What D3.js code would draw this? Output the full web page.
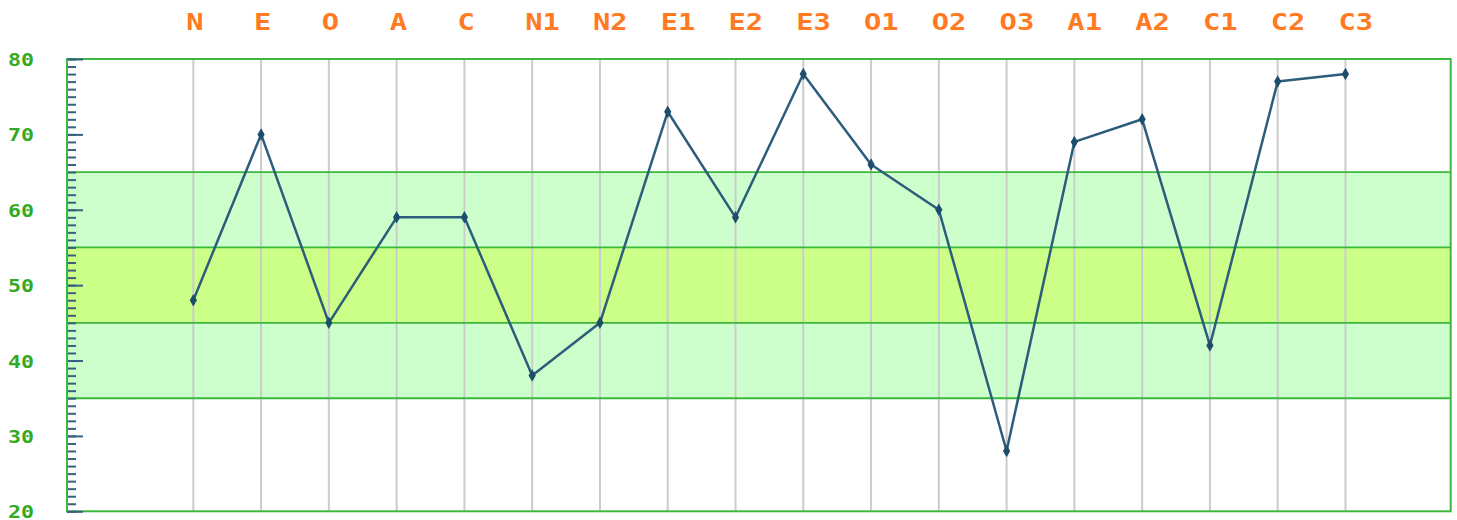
<!DOCTYPE html>
<html>
<head>
<meta charset="utf-8">
<script src="https://cdn.jsdelivr.net/npm/d3@7"></script>
<style>
  html, body { margin: 0; padding: 0; background: #ffffff; }
  svg { display: block; }
</style>
</head>
<body>
<svg id="chart" width="1457" height="520"></svg>
<script>
// ---- data ----
const categories = ["N", "E", "O", "A", "C", "N1", "N2", "E1", "E2", "E3", "O1", "O2", "O3", "A1", "A2", "C1", "C2", "C3"];
const scores = [48, 70, 45, 59, 59, 38, 45, 73, 59, 78, 66, 60, 28, 69, 72, 42, 77, 78];
const yTickLabels = [20, 30, 40, 50, 60, 70, 80];
const outerBand = [35, 65];
const innerBand = [45, 55];
const yDomain = [20, 80];

// ---- layout ----
const svg = d3.select("#chart");
const plot = { left: 67, top: 59, right: 1450.7, bottom: 511.3 };

const x = d3.scaleLinear()
  .domain([-1.864, 18.553])
  .range([plot.left, plot.right]);
const y = d3.scaleLinear()
  .domain(yDomain)
  .range([plot.bottom, plot.top]);

const green = "#3cb83c";
const labelGreen = "#33aa22";
const orange = "#ff7a22";
const lineColor = "#2c5d7a";
const tickColor = "#36617f";

// bands
svg.append("rect")
  .attr("x", plot.left).attr("width", plot.right - plot.left)
  .attr("y", y(outerBand[1])).attr("height", y(outerBand[0]) - y(outerBand[1]))
  .attr("fill", "#ccffcc");
svg.append("rect")
  .attr("x", plot.left).attr("width", plot.right - plot.left)
  .attr("y", y(innerBand[1])).attr("height", y(innerBand[0]) - y(innerBand[1]))
  .attr("fill", "#ccff88");

// vertical grid lines
svg.append("g")
  .selectAll("line")
  .data(categories)
  .join("line")
  .attr("x1", (d, i) => x(i)).attr("x2", (d, i) => x(i))
  .attr("y1", plot.top).attr("y2", plot.bottom)
  .attr("stroke", "#cccccc").attr("stroke-width", 2);

// band boundary lines
svg.append("g")
  .selectAll("line")
  .data([outerBand[0], innerBand[0], innerBand[1], outerBand[1]])
  .join("line")
  .attr("x1", plot.left).attr("x2", plot.right)
  .attr("y1", d => y(d)).attr("y2", d => y(d))
  .attr("stroke", green).attr("stroke-width", 1.8);

// plot border
svg.append("rect")
  .attr("x", plot.left).attr("y", plot.top)
  .attr("width", plot.right - plot.left).attr("height", plot.bottom - plot.top)
  .attr("fill", "none").attr("stroke", green).attr("stroke-width", 2);

// minor ticks (inside)
const minorAxis = svg.append("g")
  .attr("transform", `translate(${plot.left},0)`)
  .call(d3.axisRight(y).tickValues(d3.range(yDomain[0], yDomain[1] + 1, 1)).tickSize(9).tickFormat(""));
minorAxis.select(".domain").remove();
minorAxis.selectAll(".tick line").attr("stroke", tickColor).attr("stroke-width", 2);

// major ticks (inside)
const majorAxis = svg.append("g")
  .attr("transform", `translate(${plot.left},0)`)
  .call(d3.axisRight(y).tickValues(yTickLabels).tickSize(16).tickFormat(""));
majorAxis.select(".domain").remove();
majorAxis.selectAll(".tick line").attr("stroke", tickColor).attr("stroke-width", 2);

// left axis labels
const labelAxis = svg.append("g")
  .attr("transform", `translate(${plot.left},0)`)
  .call(d3.axisLeft(y).tickValues(yTickLabels).tickSize(0).tickPadding(33));
labelAxis.select(".domain").remove();
labelAxis.selectAll(".tick text")
  .attr("x", null)
  .attr("dy", "0.36em")
  .attr("transform", "translate(-33,0) scale(1.2,1)")
  .attr("fill", labelGreen)
  .style("font-family", "'DejaVu Sans Mono', monospace")
  .style("font-weight", "bold")
  .style("font-size", "18px");

// plot border left edge drawn again on top of ticks
svg.append("line")
  .attr("x1", plot.left).attr("x2", plot.left)
  .attr("y1", plot.top).attr("y2", plot.bottom)
  .attr("stroke", green).attr("stroke-width", 2);

// top category labels
svg.append("g")
  .selectAll("text")
  .data(categories)
  .join("text")
  .attr("transform", (d, i) => `translate(${x(i) - 7},30) scale(1.25,1)`)
  .attr("fill", orange)
  .style("font-family", "'DejaVu Sans Mono', monospace")
  .style("font-weight", "bold")
  .style("font-size", "23px")
  .text(d => d);

// line
const line = d3.line()
  .x((d, i) => x(i))
  .y(d => y(d));
svg.append("path")
  .datum(scores)
  .attr("d", line)
  .attr("fill", "none")
  .attr("stroke", lineColor)
  .attr("stroke-width", 2.5)
  .attr("stroke-linejoin", "round");

// markers
svg.append("g")
  .selectAll("path")
  .data(scores)
  .join("path")
  .attr("transform", (d, i) => `translate(${x(i)},${y(d)})`)
  .attr("d", d3.symbol().type(d3.symbolDiamond).size(45))
  .attr("fill", "#1d4d6b");
</script>
</body>
</html>
